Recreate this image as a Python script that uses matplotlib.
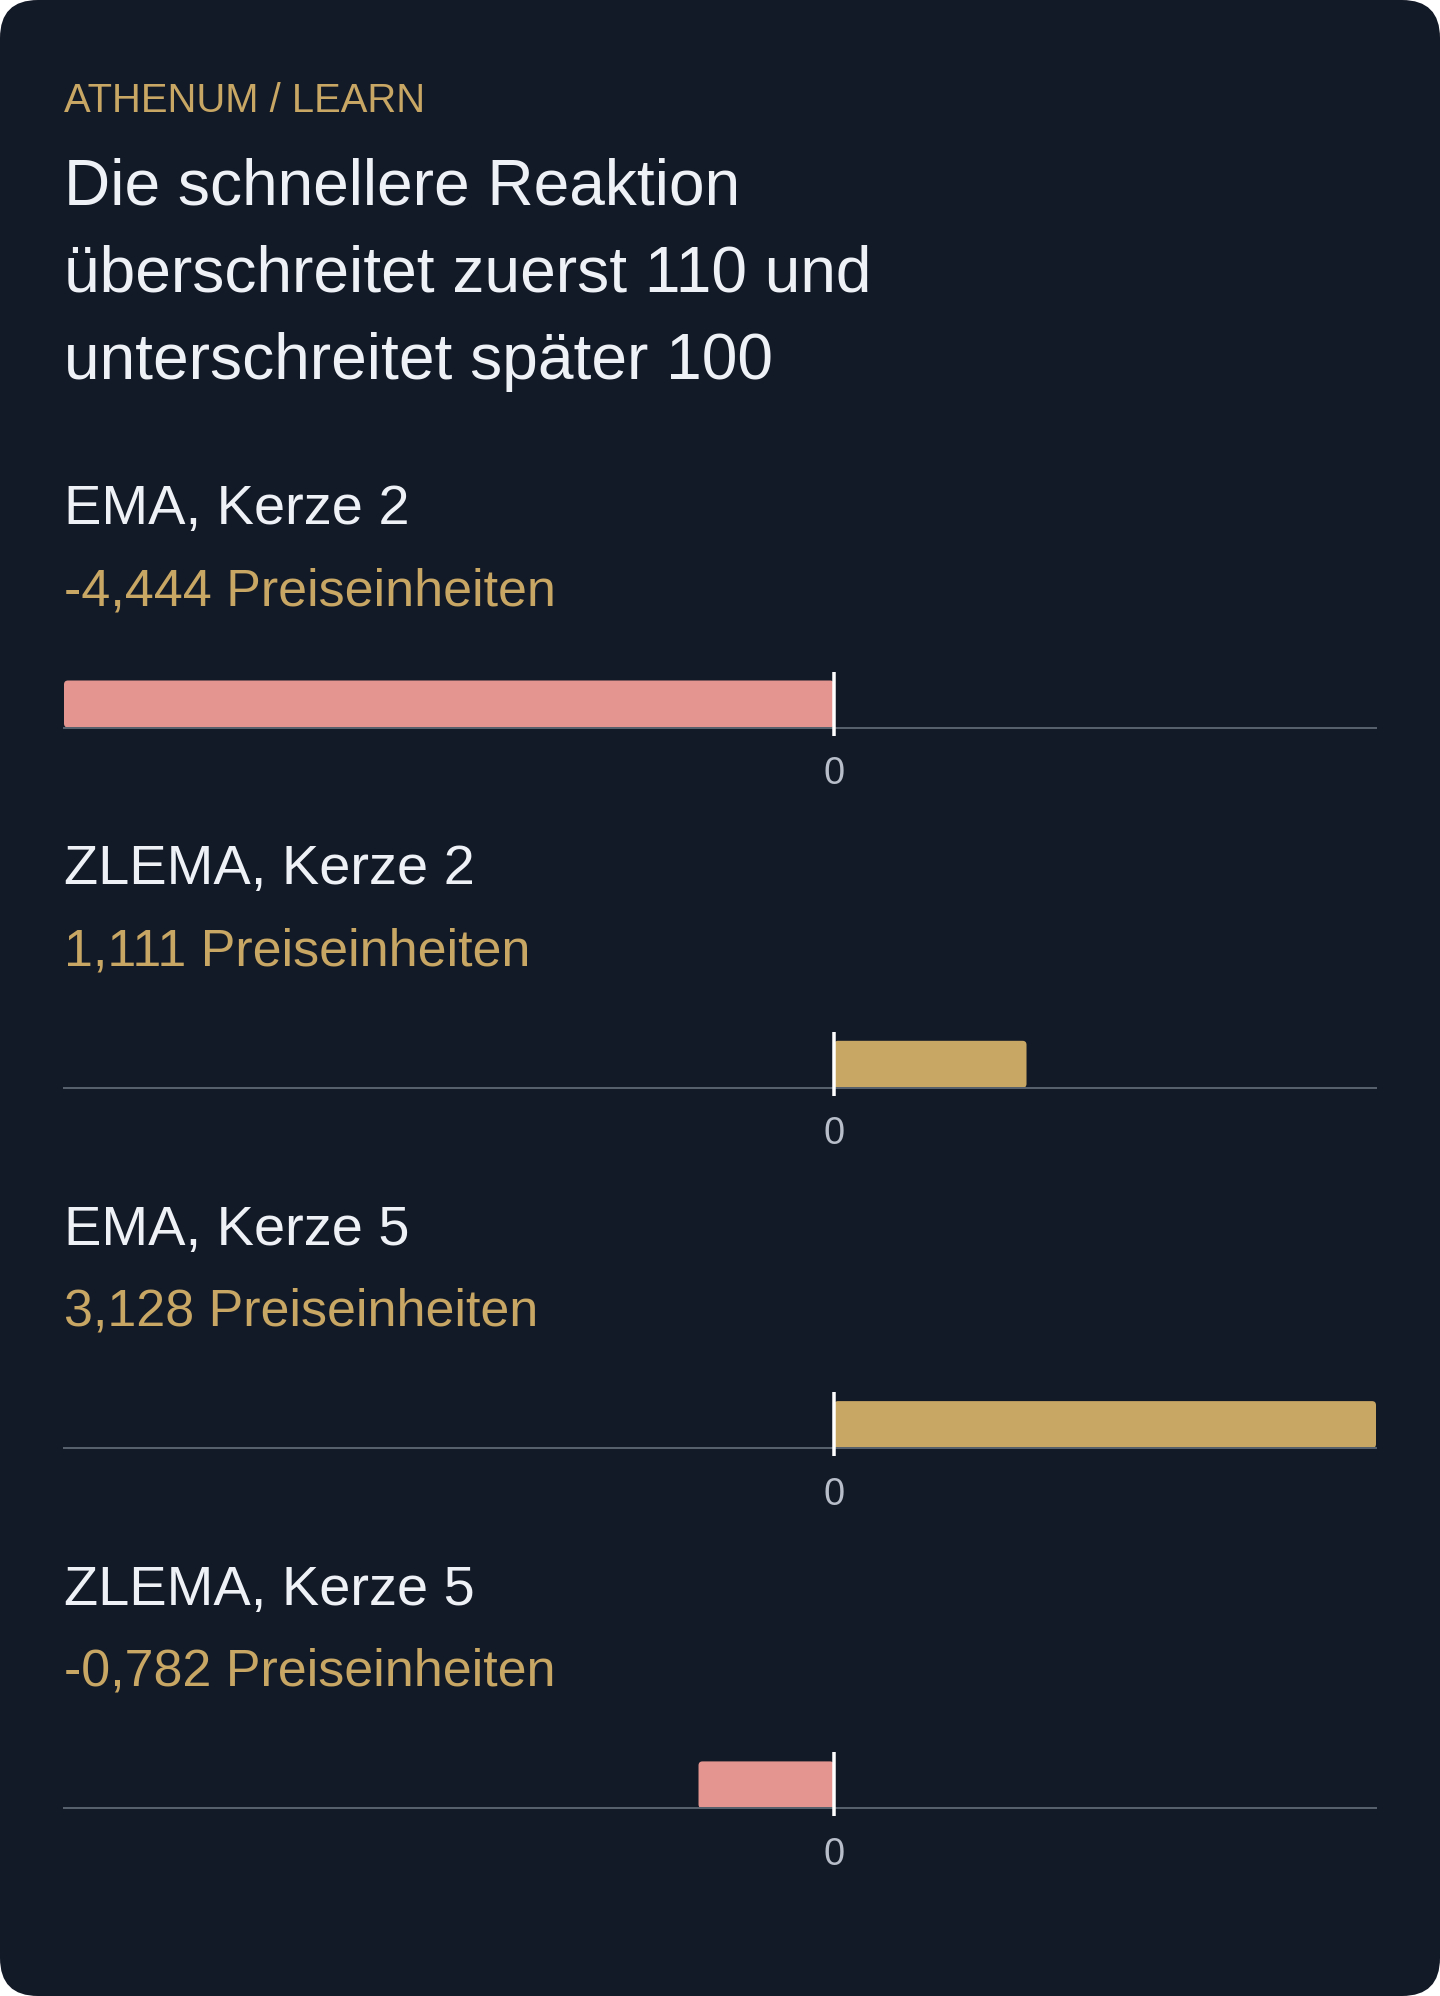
import matplotlib
matplotlib.use("Agg")
import matplotlib.pyplot as plt
from matplotlib.patches import FancyBboxPatch

plt.rcParams['font.family'] = ['Liberation Sans', 'DejaVu Sans']

# data
kicker = "ATHENUM / LEARN"
title_lines = ["Die schnellere Reaktion",
               "überschreitet zuerst 110 und",
               "unterschreitet später 100"]
labels = ["EMA, Kerze 2", "ZLEMA, Kerze 2", "EMA, Kerze 5", "ZLEMA, Kerze 5"]
values = [-4.444, 1.111, 3.128, -0.782]
value_texts = ["-4,444 Preiseinheiten", "1,111 Preiseinheiten",
               "3,128 Preiseinheiten", "-0,782 Preiseinheiten"]

# colours
BG = '#131a27'
GOLD = '#c8a664'
PINK = '#e4958f'
WHITE = '#eef1f6'
AXIS = '#56606c'
TICK = '#b8bfcb'

W, H = 1440, 1996
DPI = 100
PT = 72.0 / DPI   # px -> pt

fig = plt.figure(figsize=(W / DPI, H / DPI), dpi=DPI, facecolor='white')

# background card, pixel coordinates (top = 0)
bg = fig.add_axes([0, 0, 1, 1])
bg.set_xlim(0, W)
bg.set_ylim(H, 0)
bg.axis('off')
bg.add_patch(FancyBboxPatch((0, 0), W, H, boxstyle="round,pad=0,rounding_size=38",
                            facecolor=BG, edgecolor='none'))

LEFT, RIGHT = 64, 1376
bg.text(LEFT, 112, kicker, color=GOLD, fontsize=40 * PT, va='baseline')
for i, line in enumerate(title_lines):
    bg.text(LEFT, 204 + i * 87.5, line, color=WHITE, fontsize=64 * PT, va='baseline')

xmin, xmax = min(values), max(values)
step = 360.3
for i, (lab, v, vt) in enumerate(zip(labels, values, value_texts)):
    base = 727.5 + i * step     # axis line y (px from top)
    bg.text(LEFT, base - 203.5, lab, color=WHITE, fontsize=56 * PT, va='baseline')
    bg.text(LEFT, base - 122.5, vt, color=GOLD, fontsize=52 * PT, va='baseline')

    # one axes per row, 1 y-unit = 1 px
    top, bot = base - 60, base + 10
    ax = fig.add_axes([LEFT / W, 1 - bot / H, (RIGHT - LEFT) / W, (bot - top) / H])
    ax.set_facecolor('none')
    ax.set_xlim(xmin, xmax)
    ax.set_ylim(-10, 60)
    px_per_x = (RIGHT - LEFT) / (xmax - xmin)
    r = 4 / px_per_x
    x0, w = (v, -v) if v < 0 else (0, v)
    ax.add_patch(FancyBboxPatch((x0, 0), w, 47,
                                boxstyle="round,pad=0,rounding_size=%f" % r,
                                mutation_aspect=px_per_x,
                                facecolor=PINK if v < 0 else GOLD,
                                edgecolor='none', zorder=2))
    for s in ['top', 'left', 'right']:
        ax.spines[s].set_visible(False)
    ax.spines['bottom'].set_position(('data', 0))
    ax.spines['bottom'].set_color(AXIS)
    ax.spines['bottom'].set_linewidth(2 * PT)
    ax.spines['bottom'].set_zorder(3)
    ax.set_yticks([])
    ax.set_xticks([])
    ax.plot([0, 0], [-8, 56], color='white', lw=3.5 * PT, zorder=4,
            solid_capstyle='butt', clip_on=False)
    ax.text(0, -56.5, "0", color=TICK, fontsize=38 * PT, ha='center',
            va='baseline', clip_on=False)

fig.savefig('out.png', dpi=DPI, facecolor='white')
